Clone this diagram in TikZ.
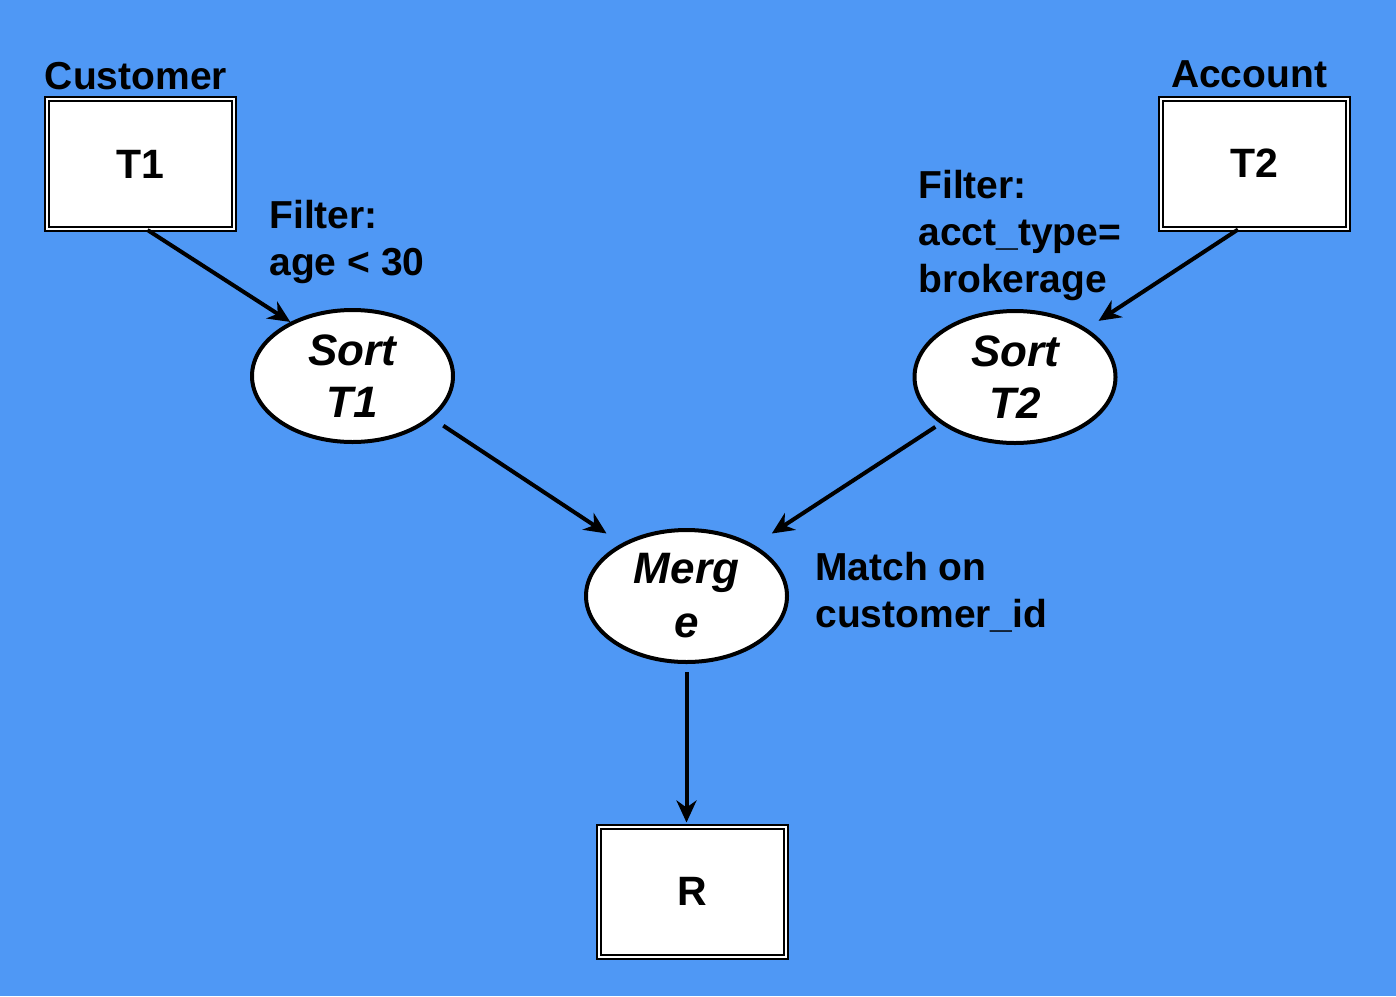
\documentclass[tikz,border=0pt]{standalone}
\usepackage{fontspec}
\setmainfont{Liberation Sans}
\usetikzlibrary{arrows.meta,shapes.geometric}
\definecolor{bg}{RGB}{79,152,245}
\begin{document}
\begin{tikzpicture}[x=0.5pt,y=-0.5pt,
 tbox/.style={draw=black, line width=1pt, double=white, double distance=1pt, fill=white, minimum width=93.5pt, minimum height=65pt, inner sep=0pt, font=\fontsize{20.5}{24}\selectfont\bfseries},
 op/.style={ellipse, draw=black, line width=2pt, fill=white, minimum width=100.5pt, minimum height=66pt, inner sep=0pt, align=center, font=\fontsize{22}{26}\selectfont\bfseries\itshape},
 lbl/.style={font=\fontsize{19.5}{23.5}\selectfont\bfseries, align=left, inner sep=0pt},
 conn/.style={-{Stealth[length=11pt,width=10pt,inset=3.5pt]}, line width=2pt}]
\fill[bg] (0,0) rectangle (1396,996);
\useasboundingbox (0,0) rectangle (1396,996);

\node[tbox] (t1) at (140.5,164) {T1};
\node[tbox] (t2) at (1254,163.5) {T2};
\node[tbox] (r) at (692.5,891.5) {R};

\node[op] (s1) at (352.5,376) {Sort\\T1};
\node[op] (s2) at (1015,377) {Sort\\T2};
\node[op, font=\fontsize{22}{27}\selectfont\bfseries\itshape] (m) at (686.5,596) {Merg\\e};

\node[lbl] (cust) at (136,76) {Customer};
\node[lbl] (acct) at (1249,74) {Account};
\node[lbl, anchor=west] (f1) at (269,242) {Filter:\\age < 30};
\node[lbl, anchor=west] (f2) at (918,235) {Filter:\\acct\_type=\\brokerage};
\node[lbl, anchor=west] (mo) at (815,592) {Match on\\customer\_id};

\draw[conn] ([xshift=3.5pt]t1.south) -- (s1.139);
\draw[conn, shorten >=7pt] ([xshift=-8pt]t2.south) -- (s2.34.5);
\draw[conn, shorten <=6.5pt, shorten >=9pt] (s1.-28) -- (m.141.3);
\draw[conn, shorten <=3pt, shorten >=10.5pt] (s2.-148.5) -- (m.37.3);
\draw[conn, shorten <=4pt, shorten >=1.5pt] (m.south) -- (m.south |- r.north);
\end{tikzpicture}
\end{document}
